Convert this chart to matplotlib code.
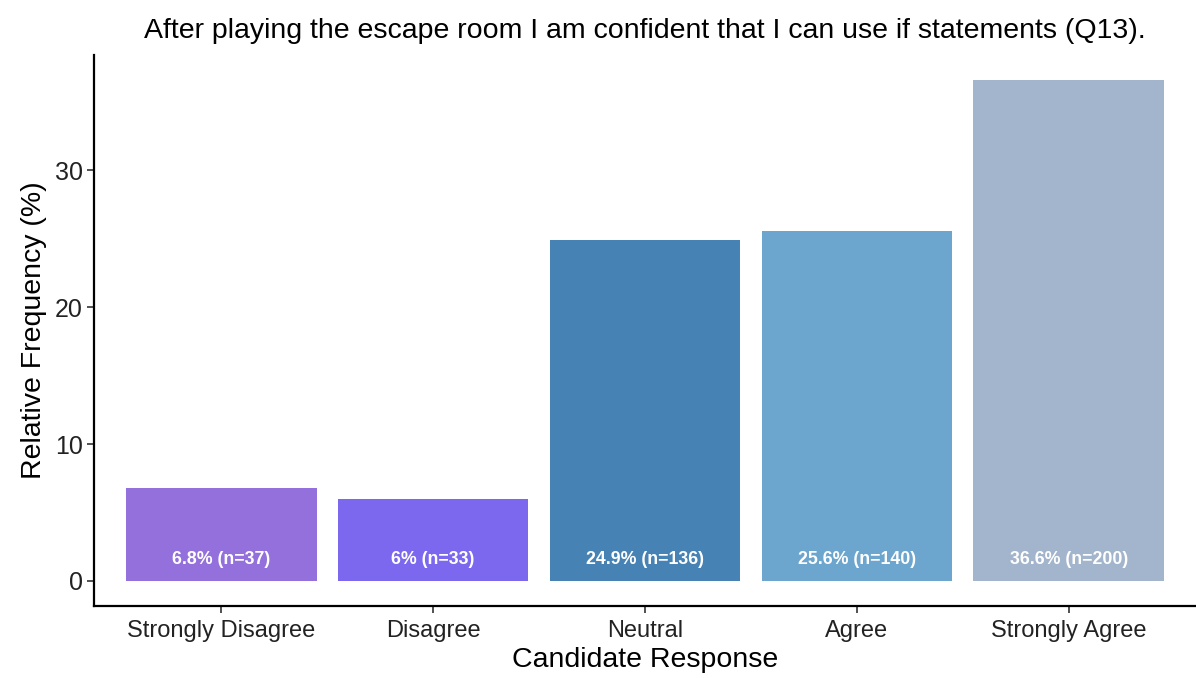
import matplotlib.pyplot as plt
import numpy as np

# --- Data ---
categories = ["Strongly Disagree", "Disagree", "Neutral", "Agree", "Strongly Agree"]
percent = [6.8, 6.0, 24.9, 25.6, 36.6]
counts = [37, 33, 136, 140, 200]
bar_labels = ["6.8% (n=37)", "6% (n=33)", "24.9% (n=136)", "25.6% (n=140)", "36.6% (n=200)"]
colors = ["#9370DB", "#7B68EE", "#4682B4", "#6CA5CD", "#A2B5CD"]

plt.rcParams["font.family"] = ["Liberation Sans", "DejaVu Sans"]

fig = plt.figure(figsize=(11.96, 6.78), dpi=100)
ax = fig.add_axes([0.0786, 0.1062, 0.9214, 0.8127])

x = np.arange(1, len(categories) + 1)
bars = ax.bar(x, percent, width=0.9, color=colors)

# white bold labels near the bottom of each bar
for xi, lab in zip(x, bar_labels):
    ax.text(xi, 1.6, lab, ha="center", va="center", color="white",
            fontsize=12.8, fontweight="bold")

ymax = max(percent)
ax.set_ylim(-0.05 * ymax, ymax * 1.05)
ax.set_xlim(0.4, 5.6)
ax.set_yticks([0, 10, 20, 30])
ax.set_xticks(x)
ax.set_xticklabels(categories)

ax.tick_params(axis="y", labelsize=18, length=5, width=1.2, colors="#333333", labelcolor="#222222", pad=3)
ax.tick_params(axis="x", labelsize=17, length=5, width=1.2, colors="#333333", labelcolor="#222222", pad=5)

ax.set_xlabel("Candidate Response", fontsize=20.5, labelpad=4)
ax.set_ylabel("Relative Frequency (%)", fontsize=20.5, labelpad=6)
ax.set_title("After playing the escape room I am confident that I can use if statements (Q13).",
             fontsize=20.5, pad=12)

ax.spines["top"].set_visible(False)
ax.spines["right"].set_visible(False)
ax.spines["left"].set_linewidth(1.6)
ax.spines["bottom"].set_linewidth(1.6)

fig.savefig("out.png", dpi=100)
